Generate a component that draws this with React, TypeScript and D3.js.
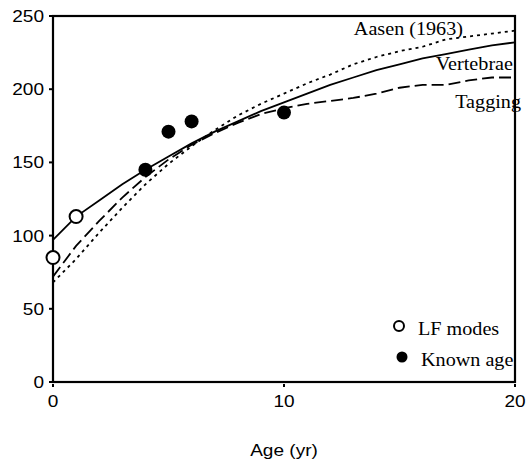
import React from "react";
import * as d3 from "d3";

// ages 0..20, lengths
const ages = [0, 1, 2, 3, 4, 5, 6, 7, 8, 9, 10, 11, 12, 13, 14, 15, 16, 17, 18, 19, 20];
const vertebrae = [97, 113, 124, 135, 145, 154, 163, 171, 178, 185, 191, 197, 203, 208, 213, 217, 221, 224, 227, 230, 232];
const tagging = [72, 93, 110, 126, 140, 152, 162, 170, 177, 183, 187, 190, 192, 194, 197, 201, 203, 203, 206, 208, 208];
const aasen = [68, 84, 102, 119, 135, 149, 161, 172, 182, 190, 197, 204, 210, 217, 222, 226, 229, 234, 236, 238, 240];

const lfAges = [0, 1];
const lfLengths = [85, 113];
const knownAges = [4, 5, 6, 10];
const knownLengths = [145, 171, 178, 184];

const xTicks = [0, 10, 20];
const yTicks = [0, 50, 100, 150, 200, 250];

const W = 527;
const H = 468;
const SX = 1.12; // the picture is a bit stretched sideways

const x = d3.scaleLinear().domain([0, 20]).range([53, 515]);
const y = d3.scaleLinear().domain([0, 250]).range([382, 16]);

const line = d3
  .line<number>()
  .x((_, i) => x(ages[i]))
  .y((d) => y(d));

const T = ({ x: tx, y: ty, anchor = "start", size, family, children }: any) => (
  <text
    transform={`translate(${tx},${ty}) scale(${SX},1)`}
    textAnchor={anchor}
    fontSize={size}
    fontFamily={family}
    fill="#000"
  >
    {children}
  </text>
);

const SANS = "'Liberation Sans', Arial, sans-serif";
const SERIF = "'Liberation Serif', 'Times New Roman', serif";

export default function App() {
  return (
    <svg width={W} height={H} style={{ position: "absolute", left: 0, top: 0, background: "#fff" }}>
      <g fill="none" stroke="#000" strokeWidth={1.8}>
        <path d={line(vertebrae) || ""} />
        <path d={line(tagging) || ""} strokeDasharray="12 5" />
        <path d={line(aasen) || ""} strokeDasharray="3 4" />
      </g>

      {/* frame */}
      <rect x={x(0)} y={y(250)} width={x(20) - x(0)} height={y(0) - y(250)} fill="none" stroke="#000" strokeWidth={2.2} />

      {/* y ticks */}
      {yTicks.map((t) => (
        <g key={"y" + t}>
          <line x1={x(0) - 4} x2={x(0)} y1={y(t)} y2={y(t)} stroke="#000" strokeWidth={2} />
          <T x={44} y={y(t) + 6} anchor="end" size={17} family={SANS}>
            {t}
          </T>
        </g>
      ))}

      {/* x ticks */}
      {xTicks.map((t) => (
        <g key={"x" + t}>
          <line x1={x(t)} x2={x(t)} y1={y(0) + 2} y2={y(0) + 5} stroke="#000" strokeWidth={2} />
          <T x={x(t)} y={407} anchor="middle" size={17} family={SANS}>
            {t}
          </T>
        </g>
      ))}

      <T x={x(10)} y={456} anchor="middle" size={17} family={SANS}>
        Age (yr)
      </T>

      {/* points */}
      {lfAges.map((a, i) => (
        <circle key={"lf" + i} cx={x(a)} cy={y(lfLengths[i])} r={6.5} fill="#fff" stroke="#000" strokeWidth={2} />
      ))}
      {knownAges.map((a, i) => (
        <circle key={"k" + i} cx={x(a)} cy={y(knownLengths[i])} r={7} fill="#000" />
      ))}

      {/* curve labels */}
      <T x={463} y={35} anchor="end" size={18} family={SERIF}>
        Aasen (1963)
      </T>
      <T x={513} y={70} anchor="end" size={18} family={SERIF}>
        Vertebrae
      </T>
      <T x={521} y={108} anchor="end" size={18} family={SERIF}>
        Tagging
      </T>

      {/* legend */}
      <circle cx={399} cy={326} r={5} fill="#fff" stroke="#000" strokeWidth={2} />
      <T x={418} y={335} size={18} family={SERIF}>
        LF modes
      </T>
      <circle cx={402} cy={357} r={5.5} fill="#000" />
      <T x={421} y={366} size={18} family={SERIF}>
        Known age
      </T>
    </svg>
  );
}
